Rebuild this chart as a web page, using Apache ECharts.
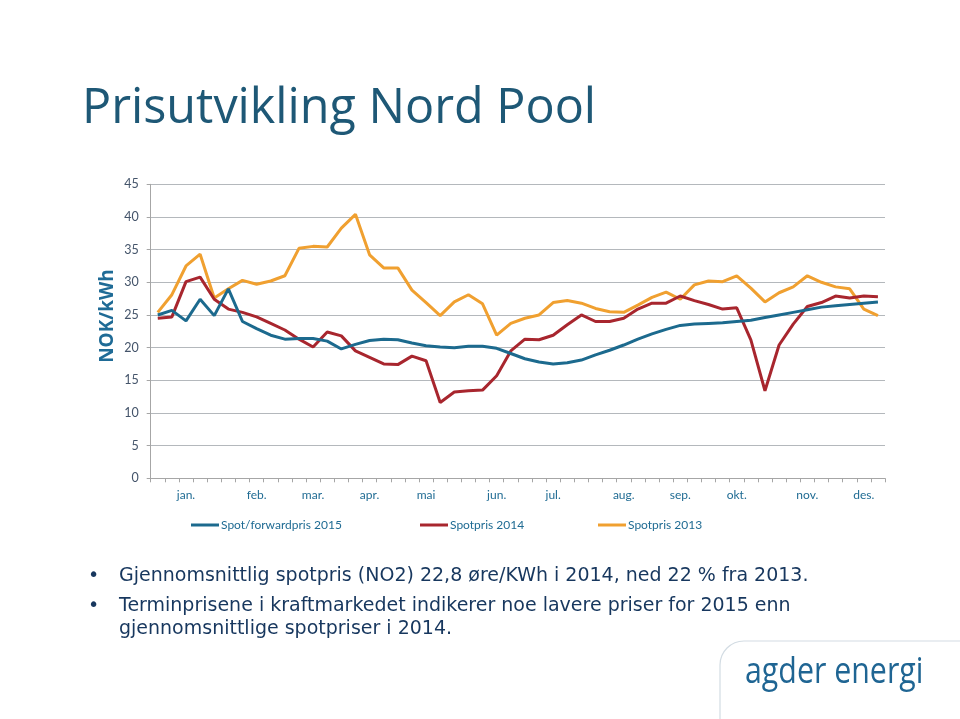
<!DOCTYPE html>
<html>
<head>
<meta charset="utf-8">
<script src="https://cdn.jsdelivr.net/npm/echarts@6/dist/echarts.min.js"></script>
<style>
html,body{margin:0;padding:0;background:#fff;}
#c{width:960px;height:719px;}
</style>
</head>
<body>
<div id="c"></div>
<script>
// Week numbers 1..52 (categories)
const weeks = [1,2,3,4,5,6,7,8,9,10,11,12,13,14,15,16,17,18,19,20,21,22,23,24,25,26,27,28,29,30,31,32,33,34,35,36,37,38,39,40,41,42,43,44,45,46,47,48,49,50,51,52];
// Month tick labels and the week they are shown under
const monthLabels = ['jan.','feb.','mar.','apr.','mai','jun.','jul.','aug.','sep.','okt.','nov.','des.'];
const monthWeeks  = [3, 8, 12, 16, 20, 25, 29, 34, 38, 42, 47, 51];
const yTicks = [0,5,10,15,20,25,30,35,40,45];

const seriesNames = ['Spot/forwardpris 2015','Spotpris 2014','Spotpris 2013'];

const spot2015 = [25.0,25.7,24.1,27.4,24.9,29.0,24.0,22.9,21.9,21.3,21.4,21.4,21.0,19.8,20.5,21.1,21.3,21.2,20.7,20.3,
  20.1,20.0,20.2,20.2,19.9,19.1,18.3,17.8,17.5,17.7,18.1,18.9,19.6,20.4,21.3,22.1,22.8,23.4,23.6,23.7,
  23.8,24.0,24.2,24.6,25.0,25.4,25.8,26.2,26.4,26.6,26.8,27.0];
const spot2014 = [24.5,24.7,30.1,30.8,27.4,25.9,25.4,24.7,23.7,22.7,21.3,20.1,22.4,21.8,19.5,18.5,17.5,17.4,18.7,18.0,
  11.6,13.2,13.4,13.5,15.7,19.5,21.3,21.2,21.9,23.5,25.0,24.0,24.0,24.5,25.9,26.8,26.8,27.9,27.2,26.6,
  25.9,26.1,21.2,13.4,20.4,23.6,26.3,26.9,27.9,27.6,27.9,27.8];
const spot2013 = [25.4,28.1,32.5,34.3,27.6,29.0,30.3,29.7,30.2,31.0,35.2,35.5,35.4,38.3,40.4,34.2,32.2,32.2,28.8,26.9,
  24.9,27.0,28.1,26.7,21.9,23.7,24.5,25.0,26.9,27.2,26.8,26.0,25.5,25.4,26.5,27.7,28.5,27.4,29.6,30.2,
  30.1,31.0,29.1,27.0,28.4,29.3,31.0,30.0,29.3,29.0,25.9,24.9];

const colors = ['#1C6A8E','#A8262E','#F0A030'];
const textTeal = '#1F6B93';

const chart = echarts.init(document.getElementById('c'), null, {renderer:'canvas'});

function lineSeries(name, data, color){
  return {
    name: name, type: 'line', data: data, symbol: 'none', smooth: false,
    lineStyle: {color: color, width: 3}, itemStyle: {color: color},
    emphasis: {disabled: true}, animation: false
  };
}

function legendAt(name, left){
  return {
    data: [name], left: left, top: 514, icon: 'rect', itemWidth: 28, itemHeight: 3,
    textStyle: {color: textTeal, fontFamily: 'Lato', fontSize: 12, padding: [0,0,0,-3]},
    selectedMode: false
  };
}

const option = {
  backgroundColor: '#ffffff',
  animation: false,
  grid: {left: 150.7, right: 75, top: 184.3, bottom: 240.7, containLabel: false},
  legend: [legendAt(seriesNames[0], 186), legendAt(seriesNames[1], 415), legendAt(seriesNames[2], 593)],
  xAxis: {
    type: 'category', data: weeks, boundaryGap: true,
    axisLine: {lineStyle: {color: '#A6A6A6', width: 1}},
    axisTick: {show: true, interval: 0, length: 4, lineStyle: {color: '#A6A6A6'}},
    axisLabel: {
      interval: 0, margin: 11, color: textTeal, fontFamily: 'Lato', fontSize: 12,
      formatter: function(v){ const i = monthWeeks.indexOf(Number(v)); return i >= 0 ? monthLabels[i] : ''; }
    },
    splitLine: {show: false}
  },
  yAxis: {
    type: 'value', min: yTicks[0], max: yTicks[yTicks.length-1], interval: 5,
    axisLine: {show: true, lineStyle: {color: '#A6A6A6', width: 1}},
    axisTick: {show: true, length: 4, lineStyle: {color: '#A6A6A6'}},
    axisLabel: {margin: 12, color: '#44546A', fontFamily: 'Lato', fontSize: 12.5},
    splitLine: {show: true, lineStyle: {color: '#B4B8BC', width: 1.2}}
  },
  series: [
    lineSeries(seriesNames[2], spot2013, colors[2]),
    lineSeries(seriesNames[1], spot2014, colors[1]),
    lineSeries(seriesNames[0], spot2015, colors[0])
  ],
  graphic: [
    {type:'text', x: 82, y: 109, silent: true,
      style:{text:'Prisutvikling Nord Pool', fill:'#1E5876', font:'48.5px "Open Sans"', textVerticalAlign:'middle'}},
    {type:'text', x: 108, y: 316, rotation: Math.PI/2, silent: true,
      style:{text:'NOK/kWh', fill:'#1F6B96', font:'bold 19px "Open Sans"', textAlign:'center', textVerticalAlign:'middle'}},
    {type:'text', x: 88, y: 576, silent: true,
      style:{text:'•', fill:'#17375E', font:'19px "DejaVu Sans"', textVerticalAlign:'middle'}},
    {type:'text', x: 119, y: 576, silent: true,
      style:{text:'Gjennomsnittlig spotpris (NO2) 22,8 øre/KWh i 2014, ned 22 % fra 2013.', fill:'#17375E', font:'19px "DejaVu Sans"', textVerticalAlign:'middle'}},
    {type:'text', x: 88, y: 606, silent: true,
      style:{text:'•', fill:'#17375E', font:'19px "DejaVu Sans"', textVerticalAlign:'middle'}},
    {type:'text', x: 119, y: 606, silent: true,
      style:{text:'Terminprisene i kraftmarkedet indikerer noe lavere priser for 2015 enn', fill:'#17375E', font:'19px "DejaVu Sans"', textVerticalAlign:'middle'}},
    {type:'text', x: 119, y: 629, silent: true,
      style:{text:'gjennomsnittlige spotpriser i 2014.', fill:'#17375E', font:'19px "DejaVu Sans"', textVerticalAlign:'middle'}},
    {type:'rect', silent: true, shape:{x: 720, y: 641, width: 300, height: 120, r: [24,0,0,0]},
      style:{fill: 'none', stroke:'#D3DCE3', lineWidth: 1.2}},
    {type:'text', x: 745, y: 672, silent: true, scaleX: 0.82,
      style:{text:'agder energi', fill:'#1F6593', font:'37px "Open Sans"', textVerticalAlign:'middle'}}
  ]
};
chart.setOption(option);
</script>
</body>
</html>
